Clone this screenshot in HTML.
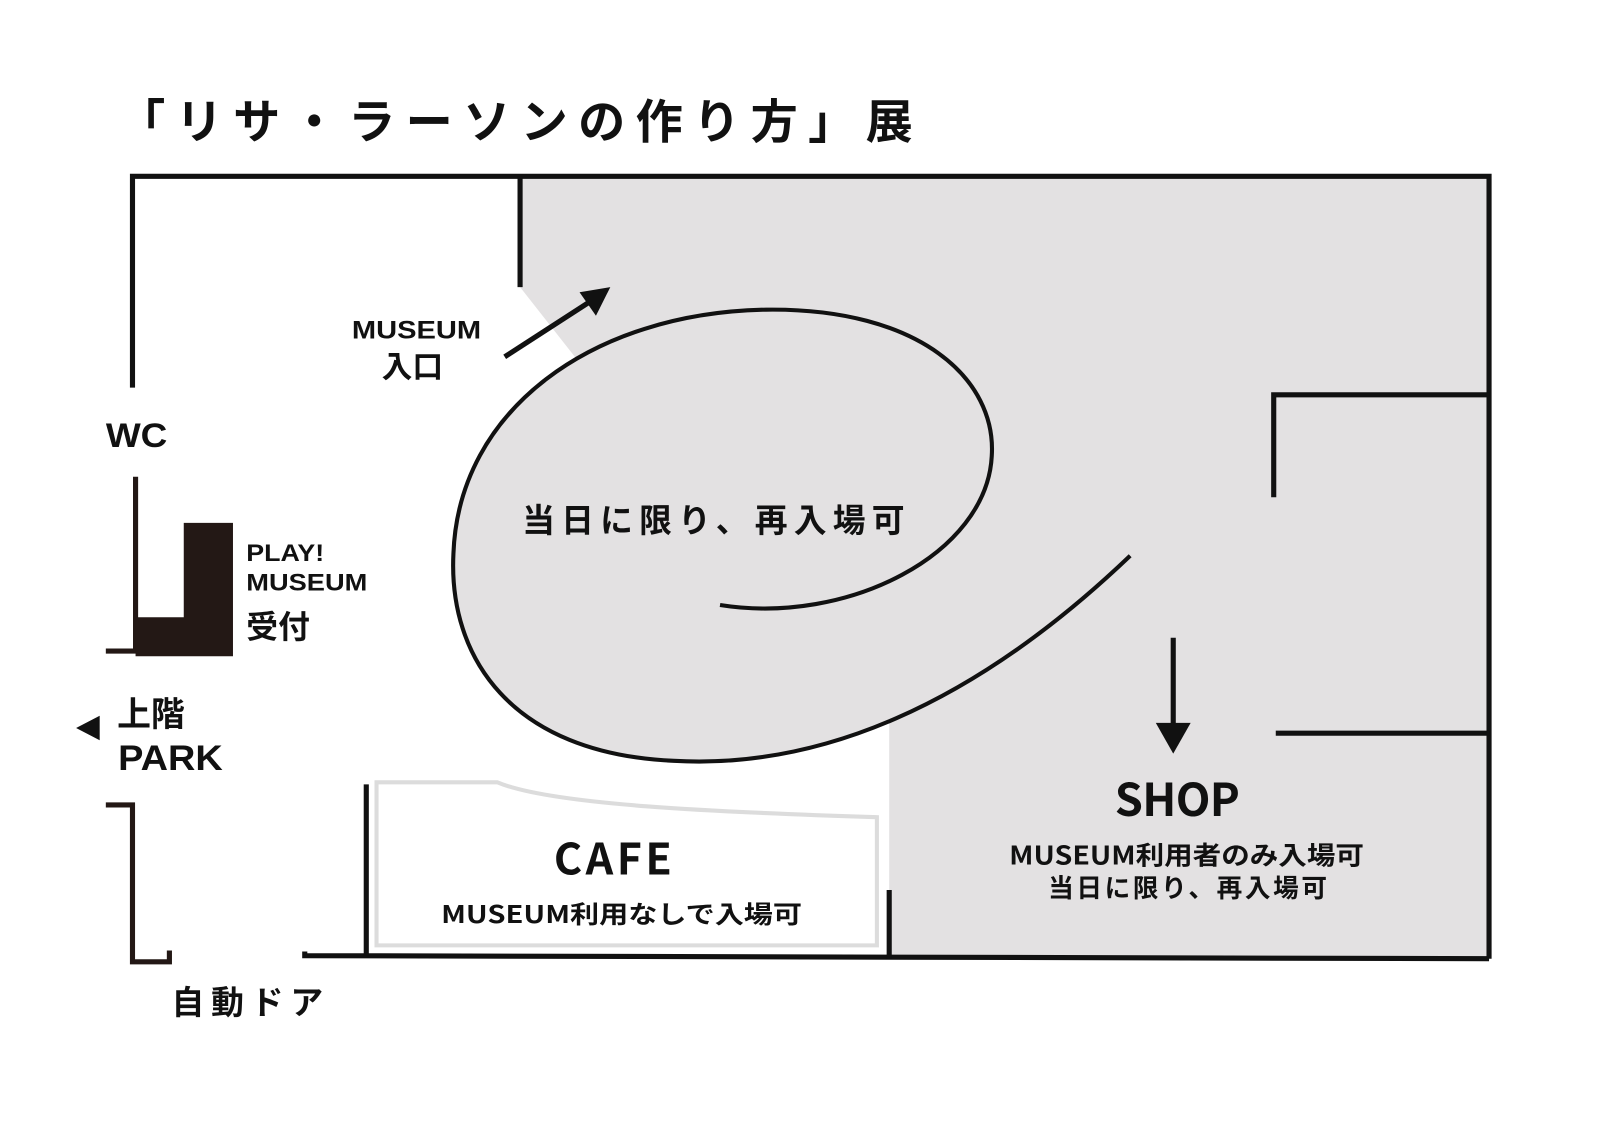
<!DOCTYPE html>
<html><head><meta charset="utf-8"><style>
html,body{margin:0;padding:0;background:#fff;width:1600px;height:1132px;overflow:hidden}
svg{display:block}
text{font-family:"Liberation Sans","Noto Sans CJK JP",sans-serif;font-weight:bold;fill:#111}
.j{font-family:"Noto Sans CJK JP",sans-serif}
</style></head><body>
<svg width="1600" height="1132" viewBox="3 0 1560 1104" xmlns="http://www.w3.org/2000/svg">
<!-- gray areas -->
<polygon points="510,172 1455,172 1455,935 870,935 870,703 990,637 1105,542 700,600 600,340 565,350 510,280" fill="#e3e1e2"/>
<path d="M1105,542 C950,690 800,750 660,742 C500,735 440,640 445,540 C450,400 580,305 750,302 C900,300 975,370 970,445 C965,540 830,610 705,590 Z" fill="#e3e1e2"/>
<path d="M1105,542 C950,690 800,750 660,742 C500,735 440,640 445,540 C450,400 580,305 750,302 C900,300 975,370 970,445 C965,540 830,610 705,590" fill="none" stroke="#111" stroke-width="4"/>
<!-- outer walls -->
<g stroke="#111" stroke-width="5" fill="none">
<polyline points="132,378 132,172 1455,172 1455,935"/>
<line x1="510" y1="172" x2="510" y2="280"/>
<polyline points="300,928 300,932 1455,935"/>
<polyline points="1245,485 1245,385 1455,385"/>
<line x1="1247" y1="715" x2="1455" y2="715"/>
<line x1="360" y1="765" x2="360" y2="932"/>
<line x1="870" y1="868" x2="870" y2="935"/>
<line x1="1147" y1="622" x2="1147" y2="708"/>
<line x1="495" y1="348" x2="580" y2="293"/>
</g>
<polygon points="1130,705 1164,705 1147,735" fill="#111"/>
<polygon points="598,280 568,285 584,308" fill="#111"/>
<!-- cafe outline -->
<path d="M370,763 L488,763 C540,785 700,792 858,797 L858,922 L370,922 Z" fill="#fff" stroke="#dcdcdc" stroke-width="4"/>
<!-- left side -->
<g stroke="#231815" stroke-width="5" fill="none">
<polyline points="135,465 135,635 106,635"/>
<polyline points="106,785 132,785 132,938 168,938 168,927"/>
</g>
<polygon points="182,510 230,510 230,640 135,640 135,602 182,602" fill="#231815"/>
<polygon points="77,710 100,698 100,722" fill="#111"/>
<!-- text -->
<text class="j" x="118" y="135" font-size="46" textLength="775" lengthAdjust="spacing">「リサ・ラーソンの作り方」展</text>
<text x="346" y="330" font-size="24" textLength="126" lengthAdjust="spacingAndGlyphs">MUSEUM</text>
<text class="j" x="375" y="368" font-size="30">入口</text>
<text x="106" y="436" font-size="33" textLength="60" lengthAdjust="spacingAndGlyphs">WC</text>
<text x="243" y="547" font-size="23" textLength="76" lengthAdjust="spacingAndGlyphs">PLAY!</text>
<text x="243" y="576" font-size="23" textLength="118" lengthAdjust="spacingAndGlyphs">MUSEUM</text>
<text class="j" x="243" y="622" font-size="31">受付</text>
<text class="j" x="117" y="708" font-size="33">上階</text>
<text x="118" y="751" font-size="34" textLength="102" lengthAdjust="spacingAndGlyphs">PARK</text>
<text class="j" x="170" y="989" font-size="32" textLength="148" lengthAdjust="spacing">自動ドア</text>
<text class="j" x="512" y="519" font-size="32" textLength="373" lengthAdjust="spacing">当日に限り、再入場可</text>
<text class="j" x="543" y="853" font-size="42" font-weight="500" textLength="115" lengthAdjust="spacing">CAFE</text>
<text class="j" x="433" y="900" font-size="24" textLength="352" lengthAdjust="spacingAndGlyphs">MUSEUM利用なしで入場可</text>
<text class="j" x="1090" y="796" font-size="44" font-weight="500" textLength="122" lengthAdjust="spacing">SHOP</text>
<text class="j" x="987" y="843" font-size="25" textLength="346" lengthAdjust="spacingAndGlyphs">MUSEUM利用者のみ入場可</text>
<text class="j" x="1025" y="875" font-size="25" textLength="272" lengthAdjust="spacing">当日に限り、再入場可</text>
</svg>
</body></html>
